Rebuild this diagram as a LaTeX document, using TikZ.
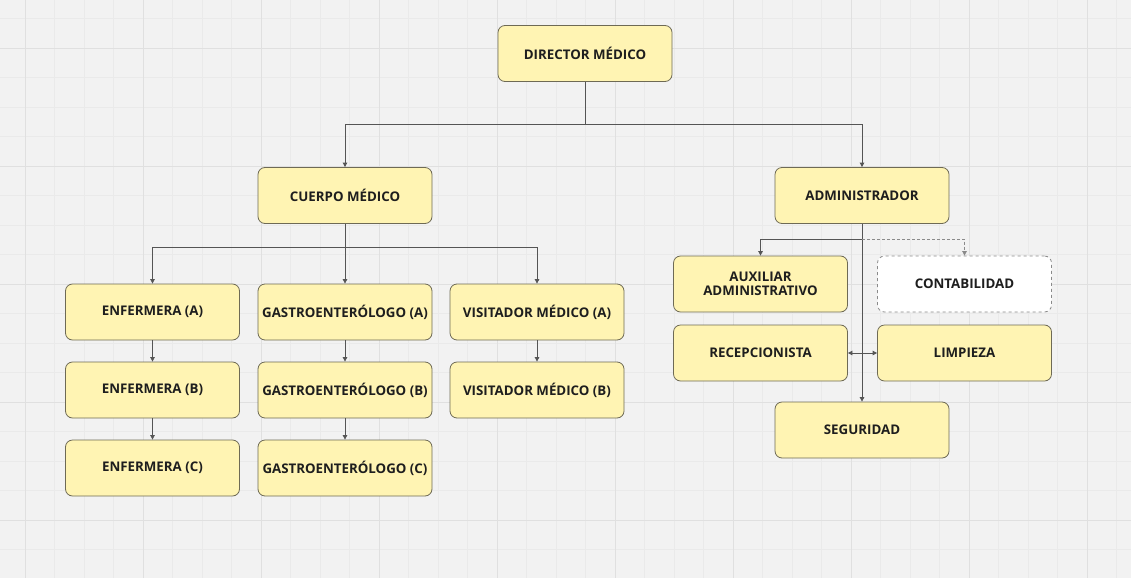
\documentclass[tikz,border=0pt]{standalone}
\usepackage{fontspec}
\setmainfont{Open Sans}
\usetikzlibrary{arrows.meta}
\definecolor{bgc}{HTML}{F2F2F2}
\definecolor{gridminor}{HTML}{EAEAEA}
\definecolor{gridmajor}{HTML}{E0E0E0}
\definecolor{boxfill}{HTML}{FFF4B3}
\definecolor{boxborder}{HTML}{6E6A55}
\definecolor{textc}{HTML}{1E1E1E}
\definecolor{linec}{HTML}{555555}
\definecolor{dashc}{HTML}{8A8A8A}
\tikzset{
  box/.style={draw=boxborder, fill=boxfill, rounded corners=7pt, minimum width=174pt,
    minimum height=56pt, inner sep=2pt, font=\fontsize{13.3}{15.5}\selectfont\bfseries,
    text=textc, align=center, line width=0.8pt},
  dbox/.style={box, draw=dashc, fill=white, dashed},
  wire/.style={draw=linec, line width=0.8pt},
  conn/.style={wire, -{Triangle[length=4.5pt,width=4.5pt]}},
}
\begin{document}
\begin{tikzpicture}[x=1pt,y=-1pt]
\fill[bgc] (0,0) rectangle (1131,578);
\useasboundingbox (0,0) rectangle (1131,578);
% grid
\foreach \i in {-1,...,38}{
  \pgfmathsetmacro{\xx}{25+29.5*\i}
  \draw[gridminor, line width=0.6pt] (\xx,0) -- (\xx,578);
}
\foreach \j in {-2,...,19}{
  \pgfmathsetmacro{\yy}{48+29.5*\j}
  \draw[gridminor, line width=0.6pt] (0,\yy) -- (1131,\yy);
}
\foreach \i in {0,...,9}{
  \pgfmathsetmacro{\xx}{25+118*\i}
  \draw[gridmajor, line width=0.9pt] (\xx,0) -- (\xx,578);
}
\foreach \j in {0,...,4}{
  \pgfmathsetmacro{\yy}{48+118*\j}
  \draw[gridmajor, line width=0.9pt] (0,\yy) -- (1131,\yy);
}
% nodes
\node[box] (dir) at (585,53.5) {DIRECTOR MÉDICO};
\node[box] (cm) at (345,195.5) {CUERPO MÉDICO};
\node[box] (adm) at (862,195.5) {ADMINISTRADOR};
\node[box] (ea) at (152.5,312) {ENFERMERA (A)};
\node[box] (eb) at (152.5,390) {ENFERMERA (B)};
\node[box] (ec) at (152.5,468) {ENFERMERA (C)};
\node[box] (ga) at (345,312) {GASTROENTERÓLOGO (A)};
\node[box] (gb) at (345,390) {GASTROENTERÓLOGO (B)};
\node[box] (gc) at (345,468) {GASTROENTERÓLOGO (C)};
\node[box] (va) at (537,312) {VISITADOR MÉDICO (A)};
\node[box] (vb) at (537,390) {VISITADOR MÉDICO (B)};
\node[box] (aux) at (760.5,284) {AUXILIAR\\[-1pt]ADMINISTRATIVO};
\node[dbox] (cont) at (964.5,284) {CONTABILIDAD};
\node[box] (rec) at (760.5,353) {RECEPCIONISTA};
\node[box] (lim) at (964.5,353) {LIMPIEZA};
\node[box] (seg) at (862,430) {SEGURIDAD};
% connectors
\coordinate (j1) at (585,124);
\draw[wire] (dir.south) -- (j1);
\draw[conn] (j1) -| (cm.north);
\draw[conn] (j1) -| (adm.north);
\coordinate (j2) at (345,247);
\draw[wire] (cm.south) -- (j2);
\draw[conn] (j2) -| (ea.north);
\draw[conn] (j2) -- (ga.north);
\draw[conn] (j2) -| (va.north);
\draw[conn] (ea) -- (eb);
\draw[conn] (eb) -- (ec);
\draw[conn] (ga) -- (gb);
\draw[conn] (gb) -- (gc);
\draw[conn] (va) -- (vb);
\coordinate (j3) at (862,239);
\draw[conn] (adm.south) -- (seg.north);
\draw[conn] (j3) -| (aux.north);
\draw[conn, draw=dashc, dashed, dash pattern=on 3pt off 2pt] (j3) -| (cont.north);
\coordinate (j4) at (862,353);
\draw[conn] (j4) -- (rec.east);
\draw[conn] (j4) -- (lim.west);
\end{tikzpicture}
\end{document}
